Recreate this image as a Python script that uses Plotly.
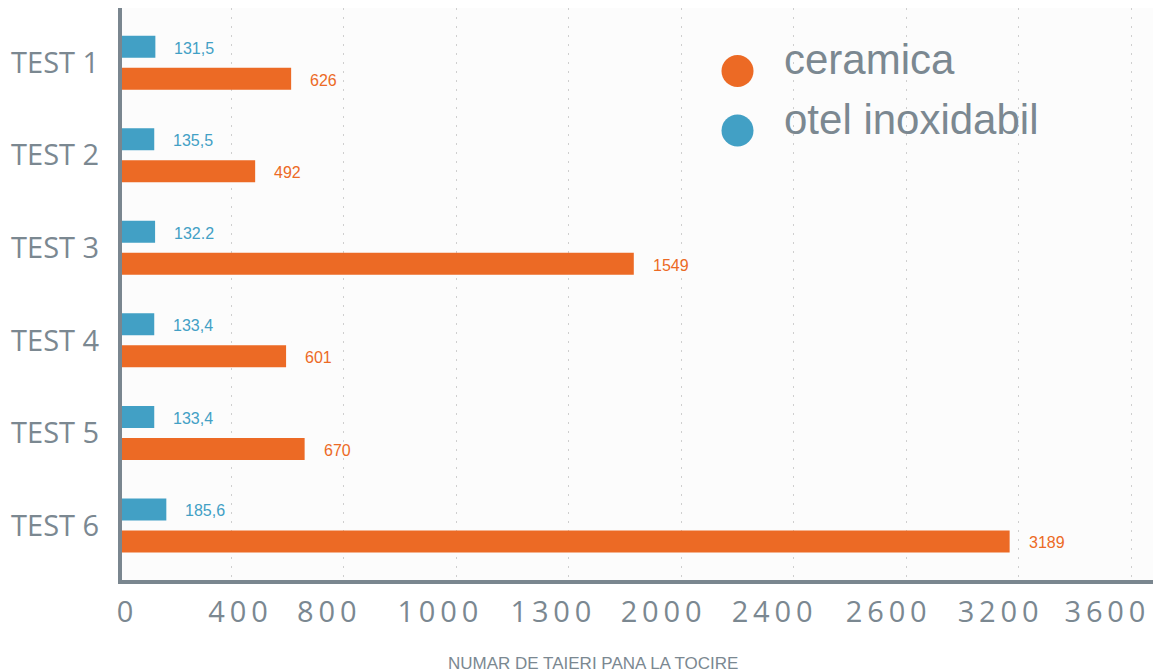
import plotly.graph_objects as go

# ---- data ----
categories = ["TEST 1", "TEST 2", "TEST 3", "TEST 4", "TEST 5", "TEST 6"]
series_names = ["ceramica", "otel inoxidabil"]
ceramica_values = [612, 484, 1831, 594, 660, 3168]
otel_values = [129, 125, 128, 125, 125, 168]
ceramica_labels = ["626", "492", "1549", "601", "670", "3189"]
otel_labels = ["131,5", "135,5", "132.2", "133,4", "133,4", "185,6"]
x_tick_text = ["0", "400", "800", "1000", "1300", "2000", "2400", "2600", "3200", "3600"]
x_tick_pos = [21, 423, 739, 1134, 1536, 1928, 2323, 2729, 3127, 3507]
grid_values = [400, 800, 1200, 1600, 2000, 2400, 2800, 3200, 3600]
x_title = "NUMAR DE TAIERI PANA LA TOCIRE"

ORANGE = "#ec6a25"
BLUE = "#42a0c5"
GRAY = "#7b8891"
SP = "\u2006"

fig = go.Figure()
fig.add_trace(go.Bar(y=categories, x=otel_values, orientation="h", name=series_names[1],
                     marker=dict(color=BLUE, line=dict(width=0)), showlegend=False, hoverinfo="x"))
fig.add_trace(go.Bar(y=categories, x=ceramica_values, orientation="h", name=series_names[0],
                     marker=dict(color=ORANGE, line=dict(width=0)), showlegend=False, hoverinfo="x"))

annotations = []
for cat, v, t in zip(categories, otel_values, otel_labels):
    annotations.append(dict(x=v, y=cat, xref="x", yref="y", text=t, showarrow=False,
                            xanchor="left", yanchor="middle", xshift=17, yshift=14.5,
                            font=dict(family="Liberation Sans, Arial", size=16, color=BLUE)))
for cat, v, t in zip(categories, ceramica_values, ceramica_labels):
    annotations.append(dict(x=v, y=cat, xref="x", yref="y", text=t, showarrow=False,
                            xanchor="left", yanchor="middle", xshift=17, yshift=-17.5,
                            font=dict(family="Liberation Sans, Arial", size=16, color=ORANGE)))

# legend (manual, large circles)
legend_colors = [ORANGE, BLUE]
legend_y = [0.8899, 0.7858]
shapes = []
for name, col, ly in zip(series_names, legend_colors, legend_y):
    shapes.append(dict(type="circle", xref="paper", yref="paper", xsizemode="pixel", ysizemode="pixel",
                       xanchor=0.597, yanchor=ly, x0=-16, x1=16, y0=-16, y1=16,
                       fillcolor=col, line=dict(width=0), layer="above"))
    annotations.append(dict(x=0.6405, y=ly, xref="paper", yref="paper", text=name, showarrow=False,
                            xanchor="left", yanchor="middle", yshift=11,
                            font=dict(family="Liberation Sans, Arial", size=42, color=GRAY)))

annotations.append(dict(x=(593 - 122) / 1031, y=-0.1486, xref="paper", yref="paper", text=x_title,
                        showarrow=False, xanchor="center", yanchor="middle", yshift=1,
                        font=dict(family="Liberation Sans, Arial", size=17, color=GRAY)))

fig.update_layout(
    width=1153, height=672,
    margin=dict(l=122, r=0, t=8, b=92, autoexpand=False),
    paper_bgcolor="white", plot_bgcolor="#fcfcfc",
    barmode="group", bargap=0.3086, bargroupgap=0.3125,
    shapes=shapes, annotations=annotations,
    showlegend=False,
)
fig.update_xaxes(
    range=[10.3, 3678], showline=True, linewidth=4, linecolor="#7a868f",
    showgrid=False, zeroline=False, ticks="", automargin=False,
    tickmode="array", tickvals=x_tick_pos, ticktext=[SP.join(list(t)) for t in x_tick_text],
    tickfont=dict(family="Open Sans", size=29, color=GRAY), ticklabelstandoff=3,
    minor=dict(tickmode="array", tickvals=grid_values, showgrid=True, gridcolor="#cfcfcf",
               gridwidth=1, griddash="2px,7px", ticks=""),
)
fig.update_yaxes(
    type="category", categoryorder="array", categoryarray=categories,
    range=[5.589, -0.591], showline=True, linewidth=4, linecolor="#7a868f",
    showgrid=False, zeroline=False, ticks="", automargin=False,
    tickfont=dict(family="Open Sans", size=29, color=GRAY), ticklabelstandoff=13,
)

fig.write_html("out.html", config={"displayModeBar": False},
               post_script="document.body.style.margin='0';document.body.style.overflow='hidden';")
